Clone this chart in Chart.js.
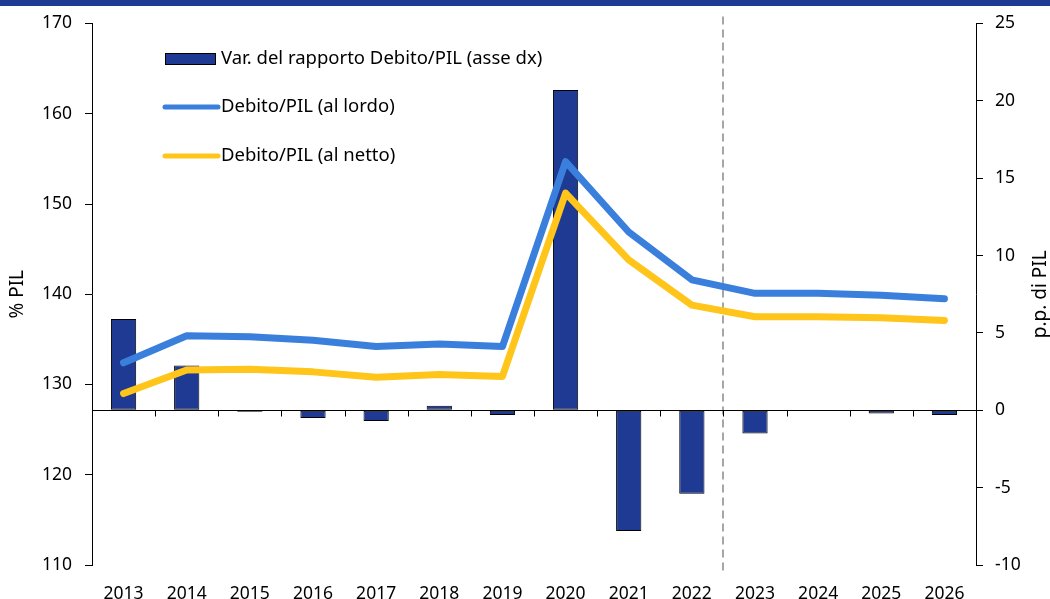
<!DOCTYPE html>
<html lang="it">
<head>
  <meta charset="UTF-8">
  <title>Debito/PIL</title>
  <script src="https://cdn.jsdelivr.net/npm/chart.js"></script>
  <style>
    html, body { margin: 0; padding: 0; background: #fff; }
    #wrap { width: 1050px; height: 599px; position: relative; }
  </style>
</head>
<body>
  <div id="wrap"><canvas id="debtChart" width="1050" height="599"></canvas></div>

  <script>
    // dati
    const years = ['2013', '2014', '2015', '2016', '2017', '2018', '2019', '2020', '2021', '2022', '2023', '2024', '2025', '2026'];
    const varRapporto = [5.9, 2.9, -0.1, -0.5, -0.7, 0.3, -0.3, 20.7, -7.8, -5.4, -1.5, -0.05, -0.2, -0.3];
    const debitoLordo = [132.4, 135.4, 135.3, 134.9, 134.2, 134.5, 134.2, 154.7, 146.9, 141.6, 140.1, 140.1, 139.9, 139.5];
    const debitoNetto = [129.0, 131.6, 131.7, 131.4, 130.8, 131.1, 130.9, 151.2, 143.8, 138.8, 137.5, 137.5, 137.4, 137.1];
    const leftTicks = [110, 120, 130, 140, 150, 160, 170];
    const rightTicks = [-10, -5, 0, 5, 10, 15, 20, 25];
    const forecastStart = '2023';

    const FONT = 'Noto Sans';
    const NAVY = '#1F3A93';

    // striscia in alto, linea dello zero, tratteggio, titoli e legenda
    const extras = {
      id: 'extras',
      beforeDraw(chart) {
        const ctx = chart.ctx;
        ctx.save();
        ctx.fillStyle = NAVY;
        ctx.fillRect(0, 0, chart.width, 6);
        ctx.restore();
      },
      beforeDatasetsDraw(chart) {
        const { ctx, chartArea, scales } = chart;
        const x = scales.x;
        const i = years.indexOf(forecastStart);
        const xs = Math.round((x.getPixelForValue(i - 1) + x.getPixelForValue(i)) / 2);
        ctx.save();
        ctx.strokeStyle = '#a6a6a6';
        ctx.lineWidth = 2;
        ctx.setLineDash([8, 5]);
        ctx.beginPath();
        ctx.moveTo(xs, chartArea.top - 7);
        ctx.lineTo(xs, chartArea.bottom + 6);
        ctx.stroke();
        ctx.restore();
      },
      afterDatasetsDraw(chart) {
        const { ctx, chartArea, scales } = chart;
        const x = scales.x;
        const y0 = Math.round(scales.y1.getPixelForValue(0)) + 0.5;
        ctx.save();
        ctx.strokeStyle = '#000';
        ctx.lineWidth = 1;
        ctx.beginPath();
        ctx.moveTo(chartArea.left, y0);
        ctx.lineTo(chartArea.right, y0);
        for (let k = 1; k < years.length; k++) {
          const xt = Math.round((x.getPixelForValue(k - 1) + x.getPixelForValue(k)) / 2) + 0.5;
          ctx.moveTo(xt, y0);
          ctx.lineTo(xt, y0 + 6);
        }
        ctx.stroke();

        // titoli degli assi (entrambi letti dal basso verso l'alto)
        ctx.fillStyle = '#000';
        ctx.font = '19px "' + FONT + '"';
        ctx.textAlign = 'center';
        ctx.textBaseline = 'middle';
        const midY = (chartArea.top + chartArea.bottom) / 2;
        [[18, '% PIL'], [1041, 'p.p. di PIL']].forEach(function (t) {
          ctx.save();
          ctx.translate(t[0], midY);
          ctx.rotate(-Math.PI / 2);
          ctx.fillText(t[1], 0, 0);
          ctx.restore();
        });

        // legenda dentro l'area del grafico: prima le barre, poi le linee
        const items = chart.data.datasets.slice().sort((a, b) => (a.type === 'bar' ? -1 : 0) - (b.type === 'bar' ? -1 : 0));
        const lx = 164, rows = [59, 107, 156];
        ctx.textAlign = 'left';
        ctx.font = '18.5px "' + FONT + '"';
        items.forEach(function (d, j) {
          const yy = rows[j];
          if (d.type === 'bar') {
            ctx.fillStyle = d.backgroundColor;
            ctx.fillRect(lx + 1, yy - 6, 51, 12);
            ctx.strokeStyle = '#000';
            ctx.lineWidth = 1;
            ctx.strokeRect(lx + 1.5, yy - 5.5, 50, 11);
          } else {
            ctx.strokeStyle = d.borderColor;
            ctx.lineWidth = 5;
            ctx.lineCap = 'round';
            ctx.beginPath();
            ctx.moveTo(lx + 1, yy);
            ctx.lineTo(lx + 54, yy);
            ctx.stroke();
          }
          ctx.fillStyle = '#000';
          ctx.fillText(d.label, lx + 57, yy);
        });
        ctx.restore();
      }
    };

    const ctx = document.getElementById('debtChart').getContext('2d');
    new Chart(ctx, {
      data: {
        labels: years,
        datasets: [
          {
            type: 'bar',
            label: 'Var. del rapporto Debito/PIL (asse dx)',
            data: varRapporto,
            yAxisID: 'y1',
            backgroundColor: NAVY,
            borderColor: '#000',
            borderWidth: 1,
            borderSkipped: false,
            barPercentage: 0.4,
            categoryPercentage: 1,
            order: 2
          },
          {
            type: 'line',
            label: 'Debito/PIL (al lordo)',
            data: debitoLordo,
            yAxisID: 'y',
            borderColor: '#3A7FDB',
            borderWidth: 7,
            borderCapStyle: 'round',
            borderJoinStyle: 'round',
            pointRadius: 0,
            tension: 0,
            order: 1
          },
          {
            type: 'line',
            label: 'Debito/PIL (al netto)',
            data: debitoNetto,
            yAxisID: 'y',
            borderColor: '#FFC51A',
            borderWidth: 7,
            borderCapStyle: 'round',
            borderJoinStyle: 'round',
            pointRadius: 0,
            tension: 0,
            order: 0
          }
        ]
      },
      options: {
        responsive: false,
        animation: false,
        layout: { padding: { top: 22, left: 0, right: 0, bottom: 0 } },
        plugins: {
          legend: { display: false },
          tooltip: { enabled: false }
        },
        scales: {
          x: {
            offset: true,
            grid: { display: false },
            border: { display: false },
            ticks: { color: '#000', font: { family: FONT, size: 17.5 }, padding: 11, maxRotation: 0 },
            afterFit(s) { s.height = 34; }
          },
          y: {
            position: 'left',
            min: 110, max: 170,
            afterBuildTicks(s) { s.ticks = leftTicks.map(v => ({ value: v })); },
            grid: { drawOnChartArea: false, tickLength: 7, color: '#000' },
            border: { display: true, color: '#000' },
            ticks: { color: '#000', font: { family: FONT, size: 17.5 }, padding: 13 },
            afterFit(s) { s.width = 92; }
          },
          y1: {
            position: 'right',
            min: -10, max: 25,
            afterBuildTicks(s) { s.ticks = rightTicks.map(v => ({ value: v })); },
            grid: { drawOnChartArea: false, tickLength: 7, color: '#000' },
            border: { display: true, color: '#000' },
            ticks: { color: '#000', font: { family: FONT, size: 17.5 }, padding: 12 },
            afterFit(s) { s.width = 74; }
          }
        }
      },
      plugins: [extras]
    });
  </script>
</body>
</html>
